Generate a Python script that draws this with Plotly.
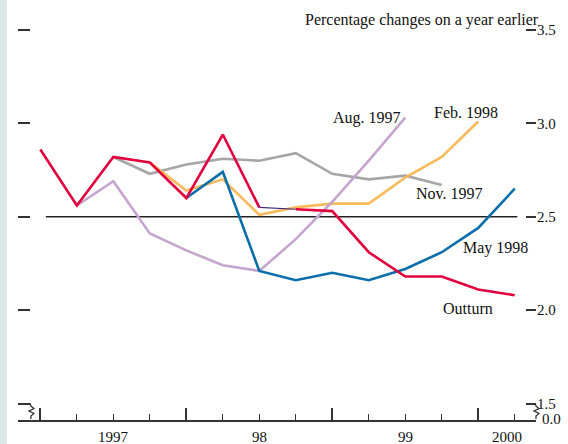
import plotly.graph_objects as go

# ---- data (quarterly, index 0 = 1997 Q1) ----
quarter_index = list(range(14))
outturn = [2.86, 2.56, 2.82, 2.79, 2.60, 2.94, 2.55, 2.54, 2.53, 2.31, 2.18, 2.18, 2.11, 2.08]
aug_1997 = [None, 2.56, 2.69, 2.41, 2.32, 2.24, 2.21, 2.38, 2.58, 2.80, 3.03, None, None, None]
nov_1997 = [None, None, 2.82, 2.73, 2.78, 2.81, 2.80, 2.84, 2.73, 2.70, 2.72, 2.67, None, None]
feb_1998 = [None, None, None, 2.79, 2.64, 2.70, 2.51, 2.55, 2.57, 2.57, 2.71, 2.82, 3.01, None]
may_1998 = [None, None, None, None, 2.60, 2.74, 2.21, 2.16, 2.20, 2.16, 2.22, 2.31, 2.44, 2.65]
reference_level = 2.5

year_boundaries = [0, 4, 8, 12]
year_labels = ["1997", "98", "99", "2000"]
year_label_pos = [2, 6, 10, 12.8]
y_tick_vals = [1.5, 2.0, 2.5, 3.0, 3.5]
y_tick_text = ["1.5", "2.0", "2.5", "3.0", "3.5"]

# ---- layout geometry ----
W, H = 568, 444
L, R, T, B = 18, 29, 20, 24
X_RANGE = [-0.613, 13.583]
Y_RANGE = [1.412, 3.553]
FONT = "Liberation Serif, Times New Roman, serif"

RED = "#e2003c"
BLUE = "#0a6eaa"
GRAY = "#a6a6a6"
ORANGE = "#f8ba5c"
LILAC = "#c4a5cd"
INK = "#333333"

pw = W - L - R
ph = H - T - B


def px_x(px):
    return (px - L) / pw


def px_y(py):
    return (H - B - py) / ph


fig = go.Figure()

# reference line at 2.5
fig.add_trace(go.Scatter(x=[0.15, 13.07], y=[reference_level, reference_level], mode="lines",
                         line=dict(color="#222222", width=1.3), hoverinfo="skip", showlegend=False))

series = [
    ("Nov. 1997", nov_1997, GRAY),
    ("Feb. 1998", feb_1998, ORANGE),
    ("Aug. 1997", aug_1997, LILAC),
    ("May 1998", may_1998, BLUE),
]
for name, vals, col in series:
    fig.add_trace(go.Scatter(x=quarter_index, y=vals, mode="lines", name=name,
                             line=dict(color=col, width=2.6), connectgaps=False, showlegend=False))

# outturn: drawn in red with a thin dark link between the 7th and 8th quarters
red_y = outturn[:7] + [None] + outturn[7:]
red_x = quarter_index[:7] + [None] + quarter_index[7:]
fig.add_trace(go.Scatter(x=red_x, y=red_y, mode="lines", name="Outturn",
                         line=dict(color=RED, width=2.6), showlegend=False))
fig.add_trace(go.Scatter(x=quarter_index[6:8], y=outturn[6:8], mode="lines",
                         line=dict(color="#3b2a80", width=1.2), showlegend=False, hoverinfo="skip"))

# invisible trace to host right axis
fig.add_trace(go.Scatter(x=[0], y=[2.5], yaxis="y2", mode="markers", marker=dict(opacity=0),
                         showlegend=False, hoverinfo="skip"))

# ---- labels ----
ann = []
label_specs = [
    ("Aug. 1997", 9.95, 3.028, "right"),
    ("Feb. 1998", 10.72, 3.060, "left"),
    ("Nov. 1997", 10.23, 2.627, "left"),
    ("May 1998", 11.54, 2.332, "left"),
    ("Outturn", 10.97, 2.011, "left"),
]
for txt, xx, yy, xa in label_specs:
    ann.append(dict(text=txt, x=xx, y=yy, xref="x", yref="y", xanchor=xa, yanchor="middle",
                    showarrow=False, font=dict(family=FONT, size=16, color="#111111")))
ann.append(dict(text="Percentage changes on a year earlier", x=px_x(544), y=px_y(20),
                xref="paper", yref="paper", xanchor="right", yanchor="middle", showarrow=False,
                font=dict(family=FONT, size=16, color="#111111")))
ann.append(dict(text="0.0", x=px_x(543), y=px_y(419), xref="paper", yref="paper",
                xanchor="left", yanchor="middle", showarrow=False,
                font=dict(family=FONT, size=15, color="#111111")))
for lab, pos in zip(year_labels, year_label_pos):
    ann.append(dict(text=lab, x=pos, y=px_y(437), xref="x", yref="paper", xanchor="center",
                    yanchor="middle", showarrow=False,
                    font=dict(family=FONT, size=15, color="#111111")))

# ---- decorative shapes: left band and axis breaks ----
shapes = [
    dict(type="rect", xref="paper", yref="paper", x0=px_x(0), x1=px_x(7), y0=px_y(H), y1=px_y(0),
         fillcolor="#d9e7e7", line=dict(width=0), layer="below"),
]


def zig(x0, top, bottom):
    pts = [(x0, top), (x0 + 1, top + 3), (x0 + 4, top + 5.5), (x0 - 1, top + 8),
           (x0 + 4, top + 10.5), (x0 + 1, top + 13), (x0 + 1, bottom)]
    path = "M " + " L ".join(f"{px_x(a):.5f},{px_y(b):.5f}" for a, b in pts)
    return dict(type="path", xref="paper", yref="paper", path=path,
                line=dict(color=INK, width=1.3))


shapes.append(zig(30, 403, 419))
shapes.append(zig(538, 403, 419))

fig.update_layout(
    width=W, height=H,
    margin=dict(l=L, r=R, t=T, b=B, pad=0),
    paper_bgcolor="white", plot_bgcolor="white",
    showlegend=False,
    font=dict(family=FONT, size=16, color="#111111"),
    annotations=ann,
    shapes=shapes,
    xaxis=dict(range=X_RANGE, showgrid=False, zeroline=False, showline=True, linecolor=INK,
               linewidth=1.5, tickmode="array", tickvals=year_boundaries, ticks="inside",
               ticklen=12, tickwidth=1.5, tickcolor=INK, showticklabels=False,
               minor=dict(tickmode="array",
                          tickvals=[q for q in quarter_index if q not in year_boundaries],
                          ticks="inside", ticklen=6, tickwidth=1.3, tickcolor=INK, showgrid=False)),
    yaxis=dict(range=Y_RANGE, showgrid=False, zeroline=False, showline=False,
               tickmode="array", tickvals=y_tick_vals, ticks="inside", ticklen=12,
               tickwidth=1.5, tickcolor=INK, showticklabels=False),
    yaxis2=dict(range=Y_RANGE, overlaying="y", side="right", showgrid=False, zeroline=False,
                showline=False, tickmode="array", tickvals=y_tick_vals, ticktext=y_tick_text,
                ticks="inside", ticklen=10, tickwidth=1.5, tickcolor=INK,
                tickfont=dict(family=FONT, size=15, color="#111111")),
)

fig.write_html("out.html", config={"displayModeBar": False},
               post_script="document.body.style.margin='0';document.body.style.overflow='hidden';")
